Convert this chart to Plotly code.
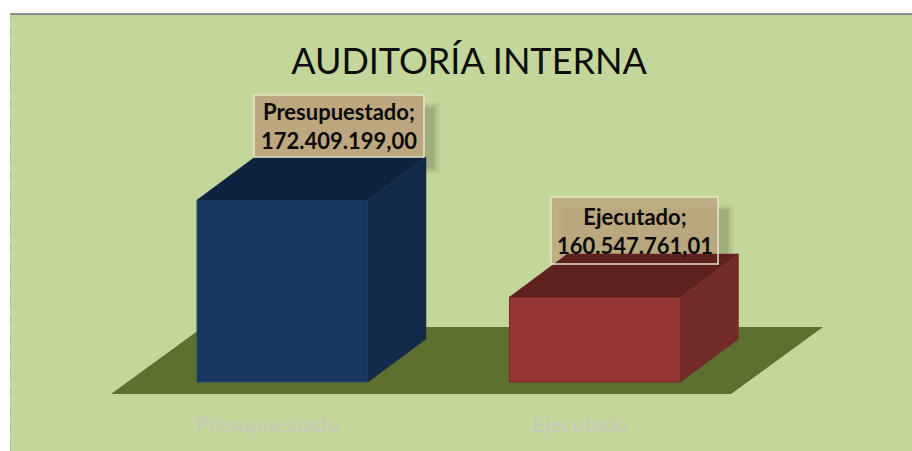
import plotly.graph_objects as go

categories = ["Presupuestado", "Ejecutado"]
values = [172409199.00, 160547761.01]
value_labels = ["172.409.199,00", "160.547.761,01"]
title_text = "AUDITORÍA INTERNA"

W, H = 912, 451
PLOT_BOTTOM = 394
X0, DX = 282.5, 312.5           # pixel of category 0, pixels per category
BAR_W = 171 / DX
DEPTH_X, DEPTH_Y = 58, 43       # oblique depth in pixels
VAL_PER_PX = (values[0] - values[1]) / 97
BASE_PX = 382
Y_BASE = values[0] - 182 * VAL_PER_PX

xr = [-X0 / DX, (W - X0) / DX]
yr = [Y_BASE - (PLOT_BOTTOM - BASE_PX) * VAL_PER_PX, Y_BASE + BASE_PX * VAL_PER_PX]

dxu = DEPTH_X / DX
dyu = DEPTH_Y * VAL_PER_PX
px = lambda p: (p - X0) / DX
py = lambda p: Y_BASE + (BASE_PX - p) * VAL_PER_PX

front = ["#17375e", "#953735"]
edge = ["#2b4a70", "#7a2c2a"]
top = ["#0f233f", "#5f2120"]
side = ["#132a4a", "#722b2a"]
BG = "#c4d79b"

fig = go.Figure()
fig.add_trace(go.Bar(
    x=[0, 1], y=[v - Y_BASE for v in values], base=Y_BASE, width=BAR_W,
    marker=dict(color=front, line=dict(color=edge, width=1)), hoverinfo="skip", showlegend=False))

for i, v in enumerate(values):
    l, r = i - BAR_W / 2, i + BAR_W / 2
    fig.add_trace(go.Scatter(
        x=[l, r, r + dxu, l + dxu, l], y=[v, v, v + dyu, v + dyu, v],
        mode="lines", fill="toself", fillcolor=top[i], line=dict(color=top[i], width=0.5),
        hoverinfo="skip", showlegend=False))
    fig.add_trace(go.Scatter(
        x=[r, r + dxu, r + dxu, r, r], y=[Y_BASE, Y_BASE + dyu, v + dyu, v, Y_BASE],
        mode="lines", fill="toself", fillcolor=side[i], line=dict(color=side[i], width=0.5),
        hoverinfo="skip", showlegend=False))

shapes = []
# white page margin above and to the left of the chart area
shapes.append(dict(type="rect", xref="paper", yref="paper", x0=0, x1=1,
                   y0=(PLOT_BOTTOM - 13) / PLOT_BOTTOM, y1=1,
                   fillcolor="white", line_width=0, layer="below"))
shapes.append(dict(type="rect", xref="paper", yref="paper", x0=0, x1=10 / W,
                   y0=-(H - PLOT_BOTTOM) / PLOT_BOTTOM, y1=1,
                   fillcolor="white", line_width=0, layer="below"))
shapes.append(dict(type="line", xref="paper", yref="paper", x0=10 / W, x1=1,
                   y0=(PLOT_BOTTOM - 14) / PLOT_BOTTOM, y1=(PLOT_BOTTOM - 14) / PLOT_BOTTOM,
                   line=dict(color="#8c8c8c", width=2), layer="below"))
shapes.append(dict(type="line", xref="paper", yref="paper", x0=10.5 / W, x1=10.5 / W,
                   y0=-(H - PLOT_BOTTOM) / PLOT_BOTTOM, y1=(PLOT_BOTTOM - 14) / PLOT_BOTTOM,
                   line=dict(color="#b4b4b4", width=1, dash="dash"), layer="below"))
# floor
shapes.append(dict(type="path", layer="below", line_width=0, fillcolor="#5d702f",
                   path=f"M {px(111)} {py(394)} L {px(731)} {py(394)} L {px(823)} {py(327)} L {px(203)} {py(327)} Z"))

boxes = [(254, 424, 95, 157), (551, 718, 197, 264)]
fills = ["#bda77f", "rgba(189,167,127,0.85)"]
for (x0, x1, y0, y1), fc in zip(boxes, fills):
    for grow, alpha in [(6, 0.05), (4, 0.06), (2, 0.08), (0, 0.10)]:
        shapes.append(dict(type="rect", layer="below", line_width=0,
                           fillcolor=f"rgba(60,60,40,{alpha})",
                           x0=px(x0 + 12 - grow), x1=px(x1 + 10 + grow),
                           y0=py(y0 + 13 - grow), y1=py(y1 + 11 + grow)))
    shapes.append(dict(type="rect", layer="below", line_width=0, fillcolor=fc,
                       x0=px(x0), x1=px(x1), y0=py(y0), y1=py(y1)))
    shapes.append(dict(type="rect", layer="above", fillcolor="rgba(0,0,0,0)",
                       line=dict(color="#e6e6c8", width=1.5),
                       x0=px(x0), x1=px(x1), y0=py(y0), y1=py(y1)))

annotations = []
for c, t, (x0, x1, y0, y1) in zip(categories, value_labels, boxes):
    annotations.append(dict(
        x=px((x0 + x1) / 2), y=py((y0 + y1) / 2), xref="x", yref="y", showarrow=False,
        text=f"<b>{c};<br>{t}</b>", align="center",
        font=dict(family="Lato", size=22, color="#0a0a0a")))

fig.update_layout(
    width=W, height=H, margin=dict(l=0, r=0, t=0, b=H - PLOT_BOTTOM, pad=0),
    paper_bgcolor=BG, plot_bgcolor="rgba(0,0,0,0)", barmode="overlay",
    showlegend=False, shapes=shapes, annotations=annotations,
    title=dict(text=title_text, x=469 / W, xanchor="center", y=1 - 61 / H, yanchor="middle",
               font=dict(family="Lato", size=36, color="#0d0d0d")),
    xaxis=dict(range=xr, tickmode="array", tickvals=[-15 / DX, 1 - 15 / DX], ticktext=categories,
               tickfont=dict(family="Lato", size=22, color="#c4c9ba"),
               ticks="outside", ticklen=11, tickcolor="rgba(0,0,0,0)",
               showgrid=False, zeroline=False, showline=False, fixedrange=True),
    yaxis=dict(range=yr, visible=False, fixedrange=True),
)
fig.write_html("out.html", config={"displayModeBar": False},
               post_script="document.body.style.margin='0';document.documentElement.style.overflow='hidden';")
